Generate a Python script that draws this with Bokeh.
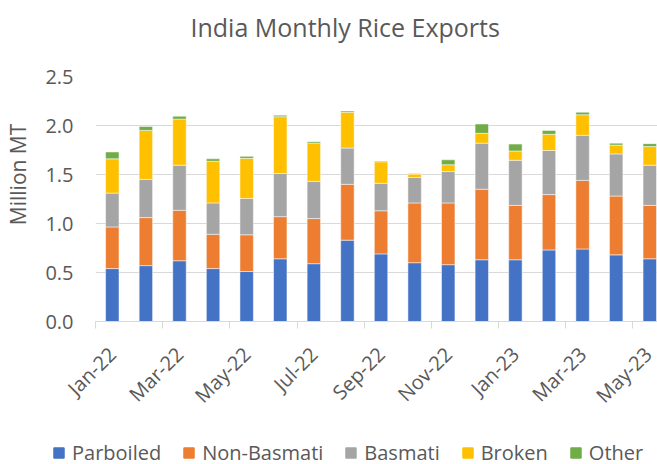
import math
from bokeh.plotting import figure
from bokeh.layouts import column
from bokeh.models import (FixedTicker, PrintfTickFormatter, Legend, LegendItem,
                          Range1d, ColumnDataSource, Title)
from bokeh.embed import file_html
from bokeh.resources import INLINE

months = ["Jan-22", "Feb-22", "Mar-22", "Apr-22", "May-22", "Jun-22", "Jul-22",
          "Aug-22", "Sep-22", "Oct-22", "Nov-22", "Dec-22", "Jan-23", "Feb-23",
          "Mar-23", "Apr-23", "May-23"]
parboiled = [0.54, 0.57, 0.62, 0.54, 0.51, 0.64, 0.59, 0.83, 0.69, 0.60, 0.58,
             0.63, 0.63, 0.73, 0.74, 0.68, 0.64]
non_basmati = [0.425, 0.49, 0.515, 0.35, 0.375, 0.43, 0.46, 0.57, 0.44, 0.61, 0.63,
               0.72, 0.555, 0.565, 0.70, 0.60, 0.545]
basmati = [0.345, 0.39, 0.46, 0.32, 0.37, 0.44, 0.38, 0.37, 0.28, 0.26, 0.32,
           0.47, 0.46, 0.45, 0.46, 0.43, 0.41]
broken = [0.35, 0.50, 0.47, 0.425, 0.41, 0.58, 0.39, 0.365, 0.22, 0.035, 0.07,
          0.10, 0.095, 0.165, 0.21, 0.09, 0.19]
other = [0.07, 0.04, 0.03, 0.025, 0.02, 0.015, 0.015, 0.013, 0.007, 0.005, 0.05,
         0.095, 0.07, 0.04, 0.025, 0.02, 0.03]
series_names = ["Parboiled", "Non-Basmati", "Basmati", "Broken", "Other"]
colors = ["#4472C4", "#ED7D31", "#A5A5A5", "#FFC000", "#70AD47"]
y_ticks = [0.0, 0.5, 1.0, 1.5, 2.0, 2.5]

FONT = "Open Sans"
TXT = "#595959"

x = list(range(len(months)))
keys = ["parboiled", "non_basmati", "basmati", "broken", "other"]
src = ColumnDataSource(dict(x=x, parboiled=parboiled, non_basmati=non_basmati,
                            basmati=basmati, broken=broken, other=other))

H1 = 420
p = figure(width=657, height=H1, output_backend="svg", toolbar_location=None,
           x_range=Range1d(-0.5, 16.23), y_range=Range1d(0, 2.5),
           min_border_left=95, min_border_right=0, min_border_top=76,
           min_border_bottom=H1 - 323, title=None)
p.outline_line_color = None
p.background_fill_color = "white"
p.border_fill_color = "white"

rs = p.vbar_stack(keys, x="x", width=0.4, color=colors, source=src,
                  line_color="white", line_width=0.5)

# title (spacer nearest the frame, then the title)
spacer = Title(text=" ", text_font_size="1px", standoff=30)
p.add_layout(spacer, "above")
main_title = Title(text="India Monthly Rice Exports", text_font=FONT,
                   text_font_size="25px", text_font_style="normal",
                   text_color=TXT, align="left", offset=95, standoff=0)
p.add_layout(main_title, "above")

# y axis
ya = p.yaxis[0]
ya.ticker = FixedTicker(ticks=y_ticks)
ya.formatter = PrintfTickFormatter(format="%.1f")
ya.axis_line_color = None
ya.major_tick_line_color = None
ya.major_tick_out = 0
ya.major_tick_in = 0
ya.minor_tick_line_color = None
ya.major_label_text_font = FONT
ya.major_label_text_font_size = "20px"
ya.major_label_text_color = TXT
ya.major_label_standoff = 22
# leading no-break spaces lift the label to where the reference draws it
ya.axis_label = "\u00a0" * 9 + "Million MT"
ya.axis_label_text_font = FONT
ya.axis_label_text_font_size = "21px"
ya.axis_label_text_font_style = "normal"
ya.axis_label_text_color = TXT
ya.axis_label_standoff = 10

# x axis
xa = p.xaxis[0]
label_pos = list(range(0, len(months), 2))
xa.ticker = FixedTicker(ticks=label_pos,
                        minor_ticks=[i - 0.5 for i in range(0, len(months) + 1, 2)])
xa.major_label_overrides = {i: months[i] for i in label_pos}
xa.major_tick_line_color = None
xa.minor_tick_line_color = "#D9D9D9"
xa.minor_tick_in = 0
xa.minor_tick_out = 7
xa.axis_line_color = "#D9D9D9"
xa.axis_line_width = 1
xa.major_label_orientation = math.pi / 4
xa.major_label_text_font = FONT
xa.major_label_text_font_size = "20px"
xa.major_label_text_color = TXT
xa.major_label_standoff = 22

p.xgrid.grid_line_color = None
p.ygrid.grid_line_color = "#D9D9D9"
p.ygrid.grid_line_width = 1

# legend strip
can_unalign = "frame_align" in p.properties()
H2 = 44
lg = figure(width=657, height=H2, output_backend="svg", toolbar_location=None,
            x_range=Range1d(0, 1), y_range=Range1d(0, 1),
            x_axis_location=None, y_axis_location=None,
            min_border_left=0 if can_unalign else 95, min_border_right=0,
            min_border_top=0, min_border_bottom=0)
if can_unalign:
    p.frame_align = False
    lg.frame_align = False
lg.outline_line_color = None
lg.xgrid.grid_line_color = None
lg.ygrid.grid_line_color = None
lg.background_fill_color = "white"
lg.border_fill_color = "white"
dummies = [lg.vbar(x=[10], top=[0.5], width=0.1, color=c) for c in colors]
items = [LegendItem(label=n, renderers=[r]) for n, r in zip(series_names, dummies)]
if can_unalign:
    legend = Legend(items=items, orientation="horizontal", location=(52, -2),
                    glyph_width=13, glyph_height=13, label_standoff=7, spacing=21,
                    label_text_font=FONT, label_text_font_size="20px",
                    label_text_color=TXT, border_line_color=None,
                    background_fill_alpha=0, padding=0, margin=0)
else:
    legend = Legend(items=items, orientation="horizontal", location=(3, -2),
                    glyph_width=13, glyph_height=13, label_standoff=7, spacing=16,
                    label_text_font=FONT, label_text_font_size="19px",
                    label_text_color=TXT, border_line_color=None,
                    background_fill_alpha=0, padding=0, margin=0)
lg.add_layout(legend, "center")

layout = column(p, lg, spacing=0)
open("out.html", "w").write(file_html(layout, INLINE))
